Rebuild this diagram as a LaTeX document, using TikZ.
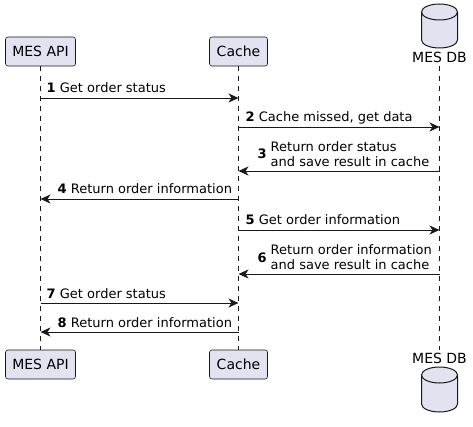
\documentclass[tikz,border=0pt]{standalone}
\usepackage{fontspec}
\setmainfont{DejaVu Sans}
\usetikzlibrary{arrows.meta}

\definecolor{partfill}{HTML}{E2E2F0}
\definecolor{umlline}{HTML}{181818}

\tikzset{
	partbox/.style={draw=umlline, fill=partfill, line width=0.6pt, rounded corners=2.5pt, minimum height=29pt, inner sep=0pt, font=\fontsize{14}{16}\selectfont},
	partname/.style={inner sep=0pt, anchor=base, font=\fontsize{14}{16}\selectfont},
	dbshape/.style={draw=umlline, fill=partfill, line width=1pt},
	lifeline/.style={umlline, line width=0.5pt, dash pattern=on 5pt off 5pt},
	msgarrow/.style={umlline, line width=0.9pt, -{Stealth[length=10pt,width=9pt,inset=3pt]}},
	msgtext/.style={inner sep=0pt, anchor=base west, font=\fontsize{13}{15}\selectfont},
}

\begin{document}
\begin{tikzpicture}[x=1pt,y=-1pt]
	\useasboundingbox (0,0) rectangle (473,427);

	%participants
	\node[partbox, minimum width=70pt] (apiT) at (40.5,51.5) {MES API};
	\node[partbox, minimum width=58pt] (cacheT) at (238.5,51.5) {Cache};
	\node[partbox, minimum width=70pt] (apiB) at (40.5,364.5) {MES API};
	\node[partbox, minimum width=58pt] (cacheB) at (238.5,364.5) {Cache};

	%database on top
	\draw[dbshape] (421.5,12) -- (421.5,40) arc[start angle=180, end angle=0, x radius=18, y radius=8] -- (457.5,12);
	\draw[dbshape] (439.5,12) ellipse [x radius=18, y radius=8];
	\node[partname] (dbT) at (439.5,63) {MES DB};

	%database at the bottom
	\node[partname] (dbB) at (439.5,363) {MES DB};
	\draw[dbshape] (421.5,375) -- (421.5,404) arc[start angle=180, end angle=0, x radius=18, y radius=8] -- (457.5,375);
	\draw[dbshape] (439.5,375) ellipse [x radius=18, y radius=8];

	%lifelines
	\draw[lifeline] (apiT.south) -- (apiB.north);
	\draw[lifeline] (cacheT.south) -- (cacheB.north);
	\draw[lifeline] ([yshift=-3pt]dbT.base) -- ([yshift=13pt]dbB.base);

	%points on the lifelines
	\foreach \i/\y in {1/98,2/127,3/171,4/199,5/230,6/274,7/303,8/332} {
		\coordinate (a\i) at (40.5,\y);
		\coordinate (c\i) at (238.5,\y);
		\coordinate (d\i) at (439.5,\y);
	}

	%messages
	\draw[msgarrow] (a1) -- (c1);
	\node[msgtext] (m1) at ([xshift=6pt,yshift=5pt]a1) {\textbf{1} Get order status};
	\draw[msgarrow] (c2) -- (d2);
	\node[msgtext] (m2) at ([xshift=7pt,yshift=5pt]c2) {\textbf{2} Cache missed, get data};
	\draw[msgarrow] (d3) -- (c3);
	\node[msgtext] (n3) at ([xshift=19pt,yshift=12pt]c3) {\textbf{3}};
	\node[msgtext] (m3a) at ([xshift=32pt,yshift=19.5pt]c3) {Return order status};
	\node[msgtext] (m3b) at ([xshift=32pt,yshift=4.5pt]c3) {and save result in cache};
	\draw[msgarrow] (c4) -- (a4);
	\node[msgtext] (m4) at ([xshift=17pt,yshift=5pt]a4) {\textbf{4} Return order information};
	\draw[msgarrow] (c5) -- (d5);
	\node[msgtext] (m5) at ([xshift=7pt,yshift=5pt]c5) {\textbf{5} Get order information};
	\draw[msgarrow] (d6) -- (c6);
	\node[msgtext] (n6) at ([xshift=19pt,yshift=12pt]c6) {\textbf{6}};
	\node[msgtext] (m6a) at ([xshift=32pt,yshift=19.5pt]c6) {Return order information};
	\node[msgtext] (m6b) at ([xshift=32pt,yshift=4.5pt]c6) {and save result in cache};
	\draw[msgarrow] (a7) -- (c7);
	\node[msgtext] (m7) at ([xshift=6pt,yshift=5pt]a7) {\textbf{7} Get order status};
	\draw[msgarrow] (c8) -- (a8);
	\node[msgtext] (m8) at ([xshift=17pt,yshift=5pt]a8) {\textbf{8} Return order information};

\end{tikzpicture}
\end{document}
